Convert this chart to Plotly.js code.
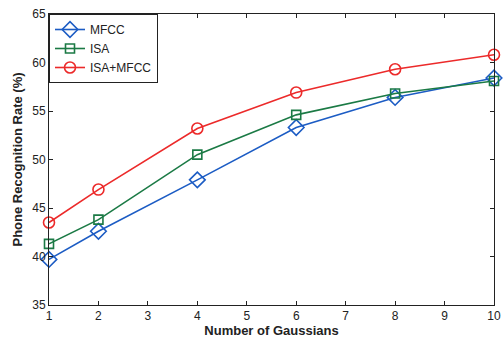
<!DOCTYPE html>
<html><head><meta charset="utf-8">
<script src="https://cdn.plot.ly/plotly-3.0.1.min.js"></script>
<style>html,body{margin:0;padding:0;background:#fff}</style>
</head><body>
<div id="chart" style="width:503px;height:338px"></div>
<script>
var gaussians = [1, 2, 4, 6, 8, 10];
var mfcc = [39.7, 42.6, 47.9, 53.3, 56.4, 58.4];
var isa = [41.3, 43.8, 50.5, 54.6, 56.8, 58.1];
var isaMfcc = [43.5, 46.9, 53.2, 56.9, 59.3, 60.8];
var seriesNames = ['MFCC', 'ISA', 'ISA+MFCC'];
var xTicks = [1, 2, 3, 4, 5, 6, 7, 8, 9, 10];
var yTicks = [35, 40, 45, 50, 55, 60, 65];

function tr(y, name, color, symbol, size) {
  return {x: gaussians, y: y, name: name, mode: 'lines+markers', type: 'scatter', cliponaxis: false,
    line: {color: color, width: 1.6},
    marker: {symbol: symbol, size: size, color: color, line: {color: color, width: 1.6}}};
}
var data = [
  tr(mfcc, seriesNames[0], '#1c5cc4', 'diamond-open', 12),
  tr(isa, seriesNames[1], '#1b7a45', 'square-open', 9),
  tr(isaMfcc, seriesNames[2], '#ec2a2a', 'circle-open', 11)
];
var axisCommon = {showgrid: false, zeroline: false, showline: true, linecolor: '#222', linewidth: 1,
  mirror: 'ticks', ticks: 'inside', ticklen: 4, tickcolor: '#222',
  tickfont: {family: 'Liberation Sans, Arial', size: 12, color: '#222'}};
var layout = {
  width: 503, height: 338,
  margin: {l: 49, r: 9, t: 14, b: 33},
  paper_bgcolor: '#fff', plot_bgcolor: '#fff',
  showlegend: true,
  legend: {x: 0, y: 1, xanchor: 'left', yanchor: 'top', bgcolor: '#fff', bordercolor: '#222', borderwidth: 1,
    font: {family: 'Liberation Sans, Arial', size: 12, color: '#222'}, tracegroupgap: 0, itemwidth: 30},
  xaxis: Object.assign({}, axisCommon, {range: [1, 10], tickvals: xTicks,
    title: {text: '<b>Number of Gaussians</b>', font: {family: 'Liberation Sans, Arial', size: 13, color: '#222'}, standoff: 2}}),
  yaxis: Object.assign({}, axisCommon, {range: [35, 65], tickvals: yTicks,
    title: {text: '<b>Phone Recognition Rate (%)</b>', font: {family: 'Liberation Sans, Arial', size: 13, color: '#222'}, standoff: 6}})
};
Plotly.newPlot('chart', data, layout, {displayModeBar: false, staticPlot: true});
</script>
</body></html>
